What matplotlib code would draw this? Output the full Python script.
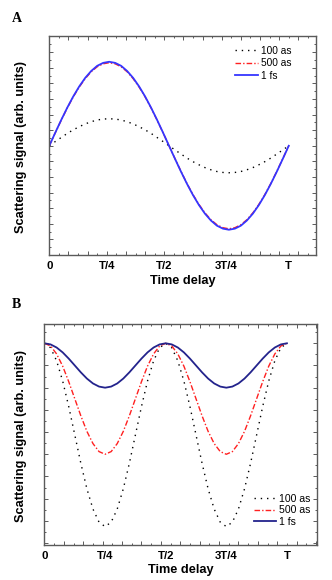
import matplotlib
matplotlib.use("Agg")
import matplotlib.pyplot as plt
from matplotlib.ticker import MultipleLocator

# ---------------- data (T = 1) ----------------
# Panel A: sampled every T/40
tA = [0.000, 0.025, 0.050, 0.075, 0.100, 0.125, 0.150, 0.175, 0.200, 0.225,
      0.250, 0.275, 0.300, 0.325, 0.350, 0.375, 0.400, 0.425, 0.450, 0.475,
      0.500, 0.525, 0.550, 0.575, 0.600, 0.625, 0.650, 0.675, 0.700, 0.725,
      0.750, 0.775, 0.800, 0.825, 0.850, 0.875, 0.900, 0.925, 0.950, 0.975, 1.000]
a_100as = [0.00, 0.27, 0.53, 0.79, 1.02, 1.22, 1.40, 1.54, 1.65, 1.71,
           1.73, 1.71, 1.65, 1.54, 1.40, 1.22, 1.02, 0.79, 0.53, 0.27,
           0.00, -0.27, -0.53, -0.79, -1.02, -1.22, -1.40, -1.54, -1.65, -1.71,
           -1.73, -1.71, -1.65, -1.54, -1.40, -1.22, -1.02, -0.79, -0.53, -0.27, 0.00]
a_500as = [0.00, 0.83, 1.64, 2.42, 3.13, 3.76, 4.30, 4.74, 5.06, 5.25,
           5.32, 5.25, 5.06, 4.74, 4.30, 3.76, 3.13, 2.42, 1.64, 0.83,
           0.00, -0.83, -1.64, -2.42, -3.13, -3.76, -4.30, -4.74, -5.06, -5.25,
           -5.32, -5.25, -5.06, -4.74, -4.30, -3.76, -3.13, -2.42, -1.64, -0.83, 0.00]
a_1fs = [0.00, 0.84, 1.66, 2.44, 3.16, 3.80, 4.35, 4.79, 5.12, 5.31,
         5.38, 5.31, 5.12, 4.79, 4.35, 3.80, 3.16, 2.44, 1.66, 0.84,
         0.00, -0.84, -1.66, -2.44, -3.16, -3.80, -4.35, -4.79, -5.12, -5.31,
         -5.38, -5.31, -5.12, -4.79, -4.35, -3.80, -3.16, -2.44, -1.66, -0.84, 0.00]

# Panel B: sampled every T/40
tB = [0.000, 0.025, 0.050, 0.075, 0.100, 0.125, 0.150, 0.175, 0.200, 0.225,
      0.250, 0.275, 0.300, 0.325, 0.350, 0.375, 0.400, 0.425, 0.450, 0.475,
      0.500, 0.525, 0.550, 0.575, 0.600, 0.625, 0.650, 0.675, 0.700, 0.725,
      0.750, 0.775, 0.800, 0.825, 0.850, 0.875, 0.900, 0.925, 0.950, 0.975, 1.000]
b_100as = [1.000, 0.980, 0.921, 0.830, 0.715, 0.587, 0.459, 0.344, 0.253, 0.194,
           0.174, 0.194, 0.253, 0.344, 0.459, 0.587, 0.715, 0.830, 0.921, 0.980,
           1.000, 0.980, 0.921, 0.830, 0.715, 0.587, 0.459, 0.344, 0.253, 0.194,
           0.174, 0.194, 0.253, 0.344, 0.459, 0.587, 0.715, 0.830, 0.921, 0.980, 1.000]
b_500as = [1.000, 0.988, 0.952, 0.897, 0.827, 0.750, 0.673, 0.603, 0.548, 0.512,
           0.500, 0.512, 0.548, 0.603, 0.673, 0.750, 0.827, 0.897, 0.952, 0.988,
           1.000, 0.988, 0.952, 0.897, 0.827, 0.750, 0.673, 0.603, 0.548, 0.512,
           0.500, 0.512, 0.548, 0.603, 0.673, 0.750, 0.827, 0.897, 0.952, 0.988, 1.000]
b_1fs = [1.000, 0.995, 0.981, 0.959, 0.931, 0.900, 0.869, 0.841, 0.819, 0.805,
         0.800, 0.805, 0.819, 0.841, 0.869, 0.900, 0.931, 0.959, 0.981, 0.995,
         1.000, 0.995, 0.981, 0.959, 0.931, 0.900, 0.869, 0.841, 0.819, 0.805,
         0.800, 0.805, 0.819, 0.841, 0.869, 0.900, 0.931, 0.959, 0.981, 0.995, 1.000]

series_labels = ["100 as", "500 as", "1 fs"]
tick_names = ["0", "T/4", "T/2", "3T/4", "T"]
tick_pos_A = [0.0, 0.24, 0.48, 0.74, 1.0]
tick_pos_B = [0.0, 0.25, 0.50, 0.75, 1.0]

# ---------------- figure ----------------
SANS = ["Liberation Sans", "DejaVu Sans"]
SERIF = ["Liberation Serif", "DejaVu Serif"]
plt.rcParams["font.family"] = SANS

fig = plt.figure(figsize=(3.32, 5.80), dpi=100)
axA = fig.add_axes([0.1485, 0.5595, 0.8035, 0.3784])
axB = fig.add_axes([0.1340, 0.0603, 0.8208, 0.3811])

spine_col = "#5a5a5a"
dot_style = (0, (1, 3.5))
dd_style = (0, (4, 1.5, 1, 1.5))


def style_axes(ax, xmax, ylim, ymaj, ymin, tick_pos):
    ax.set_xlim(0, xmax)
    ax.set_ylim(*ylim)
    ax.xaxis.set_major_locator(MultipleLocator(0.08))
    ax.xaxis.set_minor_locator(MultipleLocator(0.04))
    ax.yaxis.set_major_locator(MultipleLocator(ymaj))
    ax.yaxis.set_minor_locator(MultipleLocator(ymin))
    ax.tick_params(which="both", direction="in", top=True, right=True,
                   labelbottom=False, labelleft=False, color=spine_col,
                   width=0.7)
    ax.tick_params(which="major", length=3.0)
    ax.tick_params(which="minor", length=1.6)
    for s in ax.spines.values():
        s.set_color(spine_col)
        s.set_linewidth(1.0)
    for p, name in zip(tick_pos, tick_names):
        ax.text(p, -0.027, name, transform=ax.get_xaxis_transform(),
                ha="center", va="top", fontsize=8.2, fontweight="bold",
                family=SANS)
    ax.set_xlabel("Time delay", fontsize=9.2, fontweight="bold", labelpad=14)


# Panel A
axA.plot(tA, a_100as, color="black", lw=1.0, ls=dot_style, label=series_labels[0])
axA.plot(tA, a_500as, color="#ff2020", lw=1.0, ls=dd_style, label=series_labels[1])
axA.plot(tA, a_1fs, color="#3535ff", lw=1.3, label=series_labels[2])
style_axes(axA, 1.114, (-7.03, 7.03), 1.0, 0.5, tick_pos_A)
axA.legend(loc="upper left", bbox_to_anchor=(0.696, 0.955), frameon=False,
           fontsize=7.3, handlelength=2.3, handletextpad=0.3, labelspacing=0.25,
           borderpad=0, borderaxespad=0)

# Panel B
axB.plot(tB, b_100as, color="black", lw=1.0, ls=dot_style, label=series_labels[0])
axB.plot(tB, b_500as, color="#ff2020", lw=1.0, ls=dd_style, label=series_labels[1])
axB.plot(tB, b_1fs, color="#23238c", lw=1.3, label=series_labels[2])
style_axes(axB, 1.124, (0.091, 1.087), 0.1, 0.05, tick_pos_B)
axB.legend(loc="upper left", bbox_to_anchor=(0.768, 0.232), frameon=False,
           fontsize=7.6, handlelength=2.1, handletextpad=0.3, labelspacing=0.15,
           borderpad=0, borderaxespad=0)

# y labels
for yc in (1 - 147.0 / 580, 1 - 436.0 / 580):
    fig.text(20.7 / 332, yc, "Scattering signal (arb. units)", rotation=90,
             ha="center", va="center", fontsize=9.2, fontweight="bold", family=SANS)

# panel letters
fig.text(12 / 332, 1 - 18 / 580, "A", fontsize=10, fontweight="bold",
         family=SERIF, ha="left", va="center")
fig.text(12 / 332, 1 - 305 / 580, "B", fontsize=10, fontweight="bold",
         family=SERIF, ha="left", va="center")

fig.savefig("out.png", dpi=100)
